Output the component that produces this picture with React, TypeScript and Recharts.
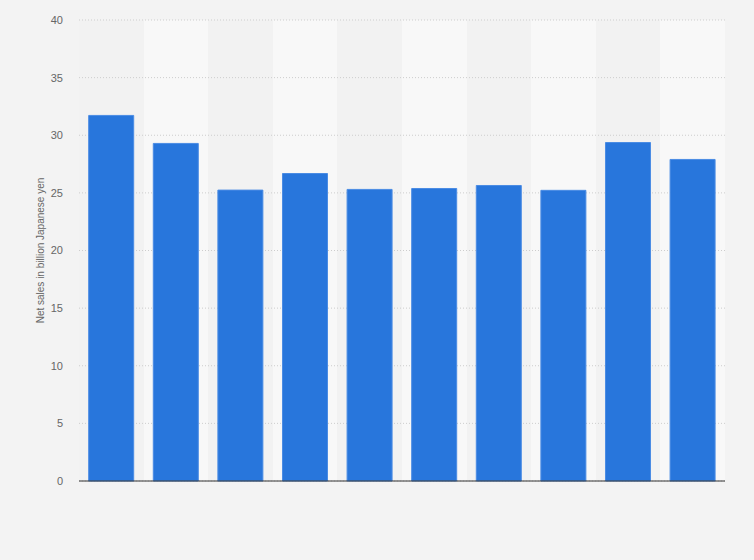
import React from 'react';
import { BarChart, Bar, XAxis, YAxis, CartesianGrid } from 'recharts';

const categories = ['FY2012', 'FY2013', 'FY2014', 'FY2015', 'FY2016', 'FY2017', 'FY2018', 'FY2019', 'FY2020', 'FY2021'];
const netSales = [31.72, 29.29, 25.24, 26.68, 25.3, 25.38, 25.64, 25.22, 29.37, 27.9];
const yTicks = [0, 5, 10, 15, 20, 25, 30, 35, 40];
const yLabel = 'Net sales in billion Japanese yen';

const data = categories.map((c, i) => ({ name: c, value: netSales[i] }));

const YLabel = (props: any) => {
  const vb = props.viewBox || {};
  const cx = 40;
  const cy = vb.y + vb.height / 2;
  return (
    <text
      x={cx}
      y={cy}
      transform={`rotate(-90, ${cx}, ${cy})`}
      textAnchor="middle"
      dominantBaseline="central"
      fill="#666"
      fontSize={10}
      fontFamily="'Liberation Sans', Arial, sans-serif"
    >
      {yLabel}
    </text>
  );
};

const bandEdges = ({ offset }: any) => {
  const step = offset.width / categories.length;
  return categories.map((_, i) => offset.left + i * step);
};

export default function App() {
  return (
    <div style={{ position: 'absolute', left: 0, top: 0, width: 754, height: 560, background: '#f3f3f3' }}>
      <BarChart
        width={754}
        height={560}
        data={data}
        margin={{ top: 20, right: 29, bottom: 78, left: 0 }}
        barCategoryGap="15%"
      >
        <CartesianGrid
          horizontal={false}
          vertical={true}
          stroke="none"
          verticalCoordinatesGenerator={bandEdges}
          verticalFill={['#f2f2f2', '#f8f8f8']}
          fillOpacity={1}
        />
        <CartesianGrid vertical={false} stroke="#cdcdcd" strokeDasharray="1 2" />
        <XAxis
          dataKey="name"
          tick={false}
          tickLine={false}
          height={1}
          axisLine={{ stroke: '#333', strokeWidth: 1 }}
        />
        <YAxis
          width={79}
          domain={[0, 40]}
          ticks={yTicks}
          interval={0}
          axisLine={false}
          tickLine={false}
          tickSize={0}
          tickMargin={16}
          tick={{ fill: '#666', fontSize: 11, fontFamily: "'Liberation Sans', Arial, sans-serif" }}
          label={<YLabel />}
        />
        <Bar dataKey="value" fill="#2876dc" stroke="#4a8ce4" strokeWidth={1} isAnimationActive={false} />
      </BarChart>
    </div>
  );
}
